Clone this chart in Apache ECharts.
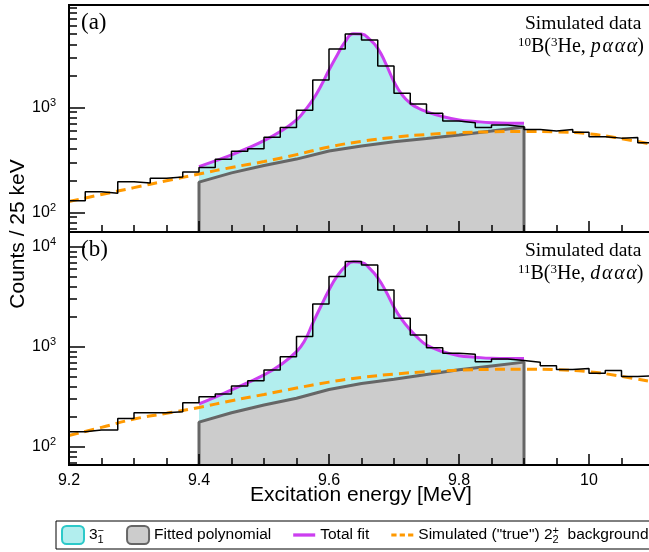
<!DOCTYPE html>
<html>
<head>
<meta charset="utf-8">
<script src="https://cdn.jsdelivr.net/npm/echarts@6/dist/echarts.min.js"></script>
<style>
  html, body { margin: 0; padding: 0; background: #fff; }
  #chart { width: 649px; height: 552px; }
</style>
</head>
<body>
<div id="chart"></div>
<script>
// histogram bins: 25 keV wide, starting at 9.2 MeV
const binStart = 9.2
const binWidth = 0.025
const countsA = [129, 157, 152, 196, 190, 212, 217, 242, 267, 321, 383, 403, 520, 643, 940, 1830,
  3600, 5000, 4390, 2485, 1365, 1080, 881, 743, 716, 643, 681, 656, 615, 595, 615, 580, 527, 510, 516, 462]
const countsB = [142, 148, 148, 192, 220, 220, 225, 277, 318, 339, 407, 460, 589, 800, 1268, 2690,
  5050, 7130, 6600, 3715, 1936, 1318, 984, 865, 845, 713, 759, 730, 703, 650, 595, 610, 546, 580, 505, 517]

// total fit (3_1^- + polynomial)
const fitX = [9.4, 9.425, 9.45, 9.475, 9.5, 9.525, 9.55, 9.5625, 9.575, 9.5875, 9.6, 9.6125, 9.625, 9.6375,
  9.65, 9.6625, 9.675, 9.6875, 9.7, 9.7125, 9.725, 9.7375, 9.75, 9.775, 9.8, 9.825, 9.85, 9.875, 9.9]
const totalA = [273, 310, 353, 410, 483, 590, 760, 930, 1180, 1600, 2275, 3150, 4236, 5050,
  5000, 4450, 3660, 2600, 1760, 1316, 1096, 982, 912, 817, 760, 735, 716, 708, 707]
const totalB = [269, 315, 372, 440, 525, 660, 898, 1150, 1725, 2550, 3715, 5100, 6350, 7100,
  7000, 6100, 4900, 3600, 2500, 1862, 1480, 1220, 1047, 898, 818, 790, 770, 765, 765]

// fitted polynomial background
const polyX = [9.4, 9.45, 9.5, 9.55, 9.6, 9.65, 9.7, 9.75, 9.8, 9.85, 9.9]
const polyA = [194, 238, 280, 322, 385, 430, 470, 505, 545, 595, 650]
const polyB = [177, 220, 263, 307, 375, 430, 475, 530, 590, 645, 705]

// simulated ("true") 2_2^+ background
const bgX = [9.2, 9.25, 9.3, 9.35, 9.4, 9.45, 9.5, 9.55, 9.6, 9.65, 9.7, 9.75, 9.8, 9.85, 9.9, 9.95, 10.0, 10.05, 10.1]
const bgA = [127, 148, 172, 200, 232, 268, 305, 355, 420, 475, 520, 552, 574, 585, 590, 585, 560, 505, 440]
const bgB = [130, 157, 190, 217, 248, 290, 335, 388, 445, 495, 535, 565, 585, 597, 600, 592, 565, 508, 445]

const yRangeA = [65, 9470]
const yRangeB = [66, 14100]
const yMajor = [100, 1000, 10000]
const yMinor = [70, 80, 90, 200, 300, 400, 500, 600, 700, 800, 900,
  2000, 3000, 4000, 5000, 6000, 7000, 8000, 9000, 20000]

const sans = '"Liberation Sans", Arial, Helvetica, sans-serif'
const serif = '"Liberation Serif", "Times New Roman", serif'

const pair = (xs, ys) => xs.map((x, i) => [x, ys[i]])
function histPoints(counts) {
  const pts = counts.map((c, i) => [binStart + i * binWidth, c])
  pts.push([binStart + counts.length * binWidth, counts[counts.length - 1]])
  return pts
}

// plot area runs past the right edge of the picture
const grids = [
  { left: 69, right: -70, top: 5, height: 227 },
  { left: 69, right: -70, top: 232, height: 233 }
]

function xAxisFor(g, showLabels) {
  return {
    type: 'value', gridIndex: g, min: 9.2, max: 10.2, interval: 0.2, position: 'bottom', z: 10,
    axisLine: { show: true, lineStyle: { color: '#000', width: 2 } },
    axisTick: { show: true, inside: true, length: 11, lineStyle: { color: '#000', width: 1.5 } },
    minorTick: { show: true, splitNumber: 4, length: 7, lineStyle: { color: '#000', width: 1.5 } },
    splitLine: { show: false },
    axisLabel: { show: showLabels, color: '#000', fontSize: 16, fontFamily: sans, margin: 8, showMaxLabel: false }
  }
}

function yAxesFor(g, range) {
  const lo = Math.log10(range[0]), hi = Math.log10(range[1])
  const inRange = v => v >= range[0] && v <= range[1]
  const major = yMajor.filter(inRange).map(v => Math.log10(v))
  const minor = yMinor.filter(inRange).map(v => Math.log10(v))
  return [
    {
      type: 'log', logBase: 10, gridIndex: g, min: range[0], max: range[1], position: 'left', z: 10,
      axisLine: { show: true, lineStyle: { color: '#000', width: 2 } },
      axisTick: { show: false }, axisLabel: { show: false }, splitLine: { show: false }
    },
    {
      type: 'value', gridIndex: g, min: lo, max: hi, position: 'left', z: 10,
      axisLine: { show: false }, splitLine: { show: false },
      axisTick: { show: true, inside: true, length: 16, customValues: major, lineStyle: { color: '#000', width: 1.5 } },
      axisLabel: {
        show: true, customValues: major, margin: 13, color: '#000', fontSize: 16, fontFamily: sans, lineHeight: 20,
        formatter: v => '10{sup|' + Math.round(v) + '}',
        rich: { sup: { fontSize: 11, fontFamily: sans, color: '#000', lineHeight: 12, verticalAlign: 'top' } }
      }
    },
    {
      type: 'value', gridIndex: g, min: lo, max: hi, position: 'left', z: 10,
      axisLine: { show: false }, splitLine: { show: false }, axisLabel: { show: false },
      axisTick: { show: true, inside: true, length: 8, customValues: minor, lineStyle: { color: '#000', width: 1.5 } }
    }
  ]
}

function panelSeries(g, counts, total, poly, bg, yMin) {
  const ax = { xAxisIndex: g, yAxisIndex: g * 3 }
  return [
    Object.assign({
      name: 'state', type: 'line', data: pair(fitX, total), smooth: true, symbol: 'none', z: 1,
      lineStyle: { width: 0, opacity: 0 }, itemStyle: { color: '#b2eeee' },
      areaStyle: { color: '#b2eeee', opacity: 1, origin: 'start' }
    }, ax),
    Object.assign({
      name: 'poly', type: 'line', symbol: 'none', z: 2,
      data: [[polyX[0], yMin]].concat(pair(polyX, poly), [[polyX[polyX.length - 1], yMin]]),
      lineStyle: { color: '#666', width: 3 }, itemStyle: { color: '#cccccc' },
      areaStyle: { color: '#cccccc', opacity: 1, origin: 'start' }
    }, ax),
    Object.assign({
      name: 'bg', type: 'line', data: pair(bgX, bg), smooth: true, symbol: 'none', z: 3,
      lineStyle: { color: '#ff9900', width: 3, type: [10, 6] }, itemStyle: { color: '#ff9900' }
    }, ax),
    Object.assign({
      name: 'fit', type: 'line', data: pair(fitX, total), smooth: true, symbol: 'none', z: 4,
      lineStyle: { color: '#cc3ef0', width: 3 }, itemStyle: { color: '#cc3ef0' }
    }, ax),
    Object.assign({
      name: 'data', type: 'line', data: histPoints(counts), step: 'end', symbol: 'none', z: 5,
      lineStyle: { color: '#000', width: 1.5 }, itemStyle: { color: '#000' }
    }, ax)
  ]
}

// sub token has zero width so the superscript stacks above it
const legendText = {
  state: '3{sub|1}{sup|\u2212}',
  poly: 'Fitted polynomial',
  fit: 'Total fit',
  bg: 'Simulated ("true") 2{sub|2}{sup|+}  background'
}

const rich2 = {
  sup: { fontSize: 13, fontFamily: serif, lineHeight: 12, verticalAlign: 'top' },
  it: { fontSize: 20, fontFamily: serif, fontStyle: 'italic', lineHeight: 22 }
}

function panelText(y0, label, reaction) {
  return [
    { type: 'text', x: 81, y: y0 + 18, style: { text: label, fontSize: 23, fontFamily: serif, fill: '#000', verticalAlign: 'middle' } },
    { type: 'text', x: 525, y: y0 + 19, style: { text: 'Simulated data', fontSize: 19.5, fontFamily: serif, fill: '#000', verticalAlign: 'middle' } },
    { type: 'text', x: 518, y: y0 + 42, style: { text: reaction, fontSize: 20, fontFamily: serif, lineHeight: 22, fill: '#000', verticalAlign: 'middle', rich: rich2 } }
  ]
}

const option = {
  animation: false,
  grid: grids.map(g => Object.assign({
    show: true, borderColor: '#000', borderWidth: 2, backgroundColor: 'transparent', outerBoundsMode: 'none'
  }, g)),
  xAxis: [xAxisFor(0, false), xAxisFor(1, true)],
  yAxis: yAxesFor(0, yRangeA).concat(yAxesFor(1, yRangeB)),
  legend: {
    left: 56, top: 521, width: 900, orient: 'horizontal',
    padding: [4, 10, 4, 5], itemGap: 22, itemWidth: 22, itemHeight: 18,
    borderColor: '#000', borderWidth: 1, backgroundColor: '#fff',
    selectedMode: false, symbolKeepAspect: true,
    data: [
      { name: 'state', icon: 'roundRect', itemStyle: { color: '#b2eeee', borderColor: '#2cc9c9', borderWidth: 2 } },
      { name: 'poly', icon: 'roundRect', itemStyle: { color: '#cccccc', borderColor: '#666', borderWidth: 2 } },
      { name: 'fit', icon: 'path://M0,0h20v3h-20z', itemStyle: { color: '#cc3ef0', borderWidth: 0 } },
      { name: 'bg', icon: 'path://M0,0h5v3h-5zM8,0h5v3h-5zM16,0h5v3h-5z', itemStyle: { color: '#ff9900', borderWidth: 0 } }
    ],
    formatter: name => legendText[name],
    textStyle: {
      color: '#000', fontSize: 15.5, fontFamily: sans, lineHeight: 20,
      rich: {
        sub: { fontSize: 11, fontFamily: sans, lineHeight: 10, verticalAlign: 'bottom', width: 0 },
        sup: { fontSize: 11, fontFamily: sans, lineHeight: 10, verticalAlign: 'top' }
      }
    }
  },
  graphic: [
    ...panelText(5, '(a)', '{sup|10}B({sup|3}He, {it|p\u200a\u03b1\u200a\u03b1\u200a\u03b1})'),
    ...panelText(232, '(b)', '{sup|11}B({sup|3}He, {it|d\u200a\u03b1\u200a\u03b1\u200a\u03b1})'),
    { type: 'text', x: 18, y: 234, rotation: Math.PI / 2,
      style: { text: 'Counts / 25 keV', fontSize: 21, fontFamily: sans, fill: '#000', align: 'center', verticalAlign: 'middle' } },
    { type: 'text', x: 361, y: 495,
      style: { text: 'Excitation energy [MeV]', fontSize: 21, fontFamily: sans, fill: '#000', align: 'center', verticalAlign: 'middle' } }
  ],
  series: panelSeries(0, countsA, totalA, polyA, bgA, yRangeA[0])
    .concat(panelSeries(1, countsB, totalB, polyB, bgB, yRangeB[0]))
}

const chart = echarts.init(document.getElementById('chart'))
chart.setOption(option)
window.addEventListener('resize', () => chart.resize())
</script>
</body>
</html>
